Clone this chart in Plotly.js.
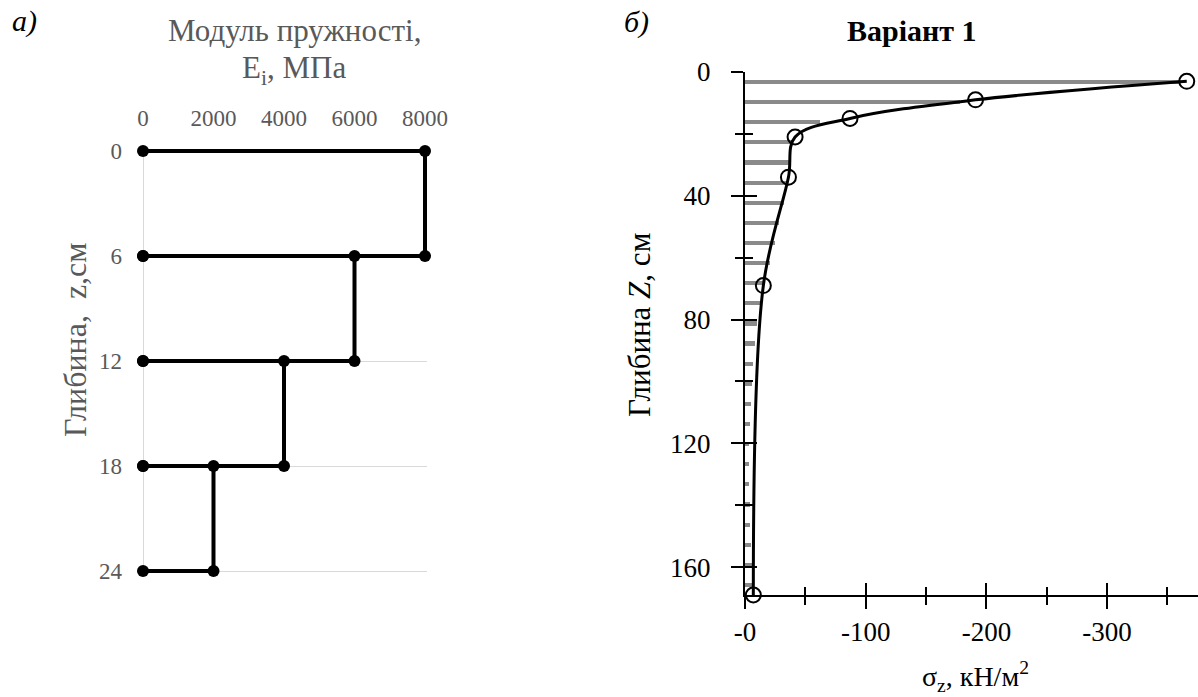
<!DOCTYPE html>
<html>
<head>
<meta charset="utf-8">
<script src="https://cdn.plot.ly/plotly-3.0.1.min.js"></script>
<style>html,body{margin:0;padding:0;background:#fff;}#chart{width:1198px;height:697px;}</style>
</head>
<body>
<div id="chart"></div>
<script>
// ---------- Panel a): modulus of elasticity per layer ----------
const layerTop = [0, 6, 12, 18];
const layerBottom = [6, 12, 18, 24];
const modulusE = [8000, 6000, 4000, 2000];
const leftXTicks = [0, 2000, 4000, 6000, 8000];
const leftYTicks = [0, 6, 12, 18, 24];

// ---------- Panel b): stress distribution, Variant 1 ----------
const pointDepth = [3, 9, 15, 21, 34, 69, 169];
const pointSigma = [-366, -191, -87, -41.5, -36, -15.2, -6.9];
const hatchDepth = [3.25, 9.75, 16.25, 22.75, 29.25, 35.75, 42.25, 48.75, 55.25, 61.75,
  68.25, 74.75, 81.25, 87.75, 94.25, 100.75, 107.25, 113.75, 120.25, 126.75,
  133.25, 139.75, 146.25, 152.75, 159.25, 165.75];
const hatchSigma = [-360, -178, -62, -40, -38, -35.5, -32, -28.5, -24.5, -20.5,
  -16, -13, -10, -8.2, -6.8, -5.5, -4.7, -4.1, -3.6, -3.5,
  -3.6, -4, -4.4, -4.9, -5.4, -6.3];
const rightXTickVals = [0, -100, -200, -300];
const rightXTickText = ['-0', '-100', '-200', '-300'];
const rightXMinor = [-50, -150, -250, -350];
const rightYTickVals = [0, 40, 80, 120, 160];
const rightYMinor = [20, 60, 100, 140];

const W = 1198, H = 697;
const px = v => v / W;
const py = v => 1 - v / H;
const FONT = 'Liberation Serif';
const GREY_TXT = '#595959';

const traces = [];
for (let i = 0; i < modulusE.length; i++) {
  traces.push({
    type: 'scatter', mode: 'lines+markers',
    x: [0, modulusE[i], modulusE[i], 0],
    y: [layerTop[i], layerTop[i], layerBottom[i], layerBottom[i]],
    line: {color: '#000', width: 4},
    marker: {color: '#000', size: 12},
    cliponaxis: false, showlegend: false, hoverinfo: 'x+y',
    xaxis: 'x', yaxis: 'y'
  });
}
traces.push({
  type: 'bar', orientation: 'h',
  x: hatchSigma, y: hatchDepth, width: 1.35,
  marker: {color: '#8a8a8a', line: {width: 0}},
  showlegend: false, hoverinfo: 'skip',
  xaxis: 'x2', yaxis: 'y2'
});
traces.push({
  type: 'scatter', mode: 'lines+markers',
  x: pointSigma, y: pointDepth,
  line: {color: '#000', width: 3, shape: 'spline', smoothing: 1},
  marker: {symbol: 'circle-open', color: '#000', size: 15, line: {width: 2, color: '#000'}},
  cliponaxis: false, showlegend: false,
  xaxis: 'x2', yaxis: 'y2'
});
traces.push({type: 'scatter', x: [], y: [], xaxis: 'x3', yaxis: 'y3', showlegend: false});

// left panel: pad ranges by ~2px so edge lines are not half clipped
const lxPad = 60, lyPad = 0.12;
const lpxX = 282 / 8000, lpxY = 420 / 24;
const rightXMax = -(W - 745) / 1.207;
const rightYRange = [169, 0];

function ann(text, x, y, size, color, extra) {
  return Object.assign({text: text, x: px(x), y: py(y), xref: 'paper', yref: 'paper',
    xanchor: 'center', yanchor: 'middle', showarrow: false,
    font: {family: FONT, size: size, color: color}}, extra || {});
}

const layout = {
  width: W, height: H,
  margin: {l: 0, r: 0, t: 0, b: 0},
  paper_bgcolor: '#fff', plot_bgcolor: 'rgba(0,0,0,0)',
  font: {family: FONT, color: '#000', size: 22},
  showlegend: false,
  bargap: 0,
  xaxis: {
    domain: [px(143 - lxPad * lpxX), px(425 + lxPad * lpxX)], anchor: 'y', side: 'top',
    range: [-lxPad, 8000 + lxPad], tickmode: 'array', tickvals: leftXTicks,
    showgrid: false, zeroline: true, zerolinecolor: '#d9d9d9', zerolinewidth: 1,
    showline: false, ticks: '',
    ticklabelstandoff: 17,
    tickfont: {family: FONT, size: 23, color: GREY_TXT}
  },
  yaxis: {
    domain: [py(571 + lyPad * lpxY), py(151 - lyPad * lpxY)], anchor: 'x',
    range: [24 + lyPad, -lyPad], tickmode: 'array', tickvals: leftYTicks,
    showgrid: true, gridcolor: '#d9d9d9', gridwidth: 1,
    zeroline: false, showline: false, ticks: '',
    ticklabelstandoff: 18,
    tickfont: {family: FONT, size: 23, color: GREY_TXT}
  },
  xaxis2: {
    domain: [px(745), 1], anchor: 'y2',
    range: [0, rightXMax], tickmode: 'array', tickvals: rightXTickVals, ticktext: rightXTickText,
    showgrid: false, zeroline: false, showline: true, linecolor: '#000', linewidth: 2,
    ticks: 'outside', ticklen: 12, tickwidth: 2, tickcolor: '#000',
    minor: {tickmode: 'array', tickvals: rightXMinor, ticks: 'outside', ticklen: 8, tickwidth: 2, tickcolor: '#000', showgrid: false},
    ticklabelstandoff: 0,
    tickfont: {family: FONT, size: 27, color: '#000'}
  },
  yaxis2: {
    domain: [py(595), py(72)], anchor: 'x2',
    range: rightYRange, tickmode: 'array', tickvals: rightYTickVals,
    showgrid: false, zeroline: false, showline: true, linecolor: '#000', linewidth: 2,
    ticks: 'outside', ticklen: 12, tickwidth: 2, tickcolor: '#000',
    minor: {tickmode: 'array', tickvals: rightYMinor, ticks: 'outside', ticklen: 8, tickwidth: 2, tickcolor: '#000', showgrid: false},
    ticklabelstandoff: 15,
    tickfont: {family: FONT, size: 27, color: '#000'}
  },
  xaxis3: {
    overlaying: 'x2', anchor: 'y2',
    range: [0, rightXMax], tickmode: 'array', tickvals: rightXTickVals,
    showgrid: false, zeroline: false, showline: false, showticklabels: false,
    ticks: 'inside', ticklen: 12, tickwidth: 2, tickcolor: '#000',
    minor: {tickmode: 'array', tickvals: rightXMinor, ticks: 'inside', ticklen: 8, tickwidth: 2, tickcolor: '#000', showgrid: false}
  },
  yaxis3: {
    overlaying: 'y2', anchor: 'x2',
    range: rightYRange, tickmode: 'array', tickvals: rightYTickVals,
    showgrid: false, zeroline: false, showline: false, showticklabels: false,
    ticks: 'inside', ticklen: 12, tickwidth: 2, tickcolor: '#000',
    minor: {tickmode: 'array', tickvals: rightYMinor, ticks: 'inside', ticklen: 8, tickwidth: 2, tickcolor: '#000', showgrid: false}
  },
  annotations: [
    ann('<i>а)</i>', 24, 21, 30, '#000'),
    ann('<i>б)</i>', 636, 22, 30, '#000'),
    ann('Модуль пружності,', 294, 31, 31, GREY_TXT),
    ann('E<sub>i</sub>, МПа', 294, 70, 31, GREY_TXT),
    ann('Глибина,  z,см', 75, 340, 32, GREY_TXT, {textangle: -90}),
    ann('<b>Варіант 1</b>', 912, 31, 30, '#000'),
    ann('Глибина <i>Z</i>, см', 639, 325, 31, '#000', {textangle: -90}),
    ann('σ<sub>z</sub>, кН/м<sup>2</sup>', 975, 676, 28, '#000')
  ]
};

Plotly.newPlot('chart', traces, layout, {staticPlot: true, displayModeBar: false});
</script>
</body>
</html>
